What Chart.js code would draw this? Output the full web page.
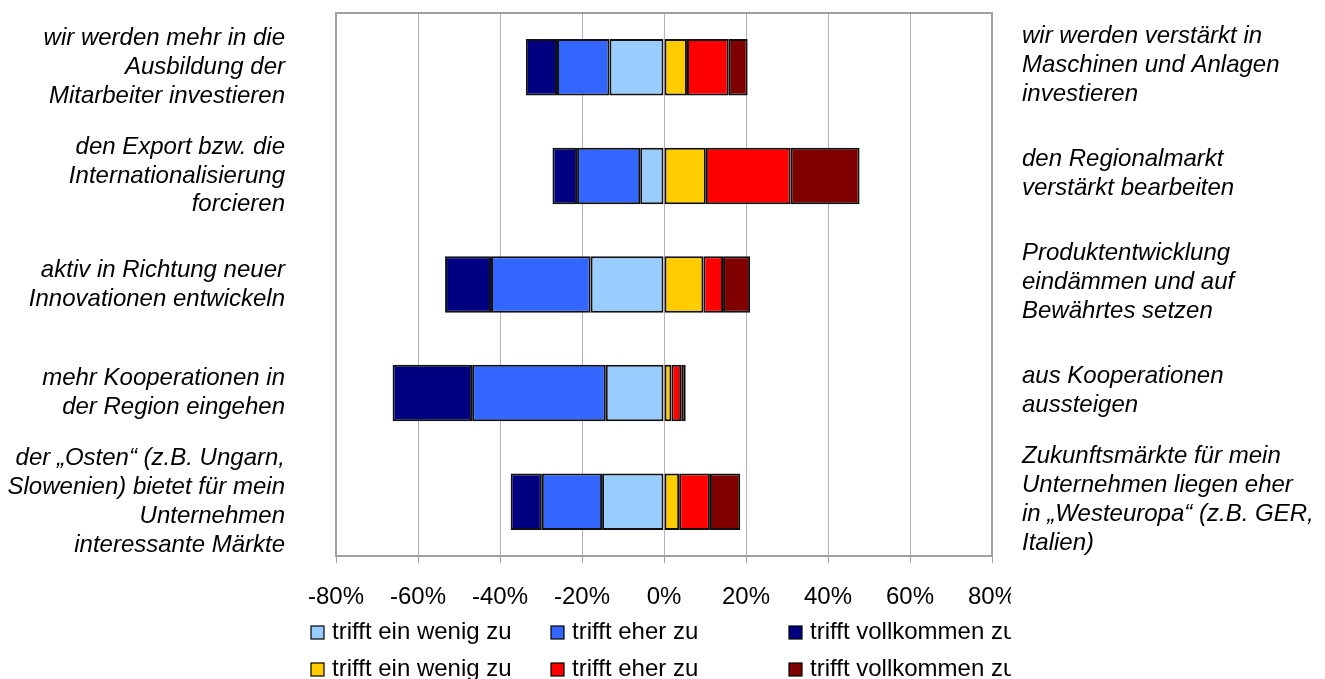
<!DOCTYPE html>
<html>
<head>
<meta charset="utf-8">
<script src="https://cdn.jsdelivr.net/npm/chart.js@4"></script>
<style>
    body { margin: 0; background: #fff; }
    #wrap { position: relative; width: 1325px; height: 679px; }
</style>
</head>
<body>
<div id="wrap"><canvas id="chart"></canvas></div>
<script>
    // left side statements (one per row, top to bottom)
    const leftLabels = [
        ['wir werden mehr in die', 'Ausbildung der', 'Mitarbeiter investieren'],
        ['den Export bzw. die', 'Internationalisierung', 'forcieren'],
        ['aktiv in Richtung neuer', 'Innovationen entwickeln'],
        ['mehr Kooperationen in', 'der Region eingehen'],
        ['der \u201EOsten\u201C (z.B. Ungarn,', 'Slowenien) bietet f\u00FCr mein', 'Unternehmen', 'interessante M\u00E4rkte']
    ];
    // right side statements
    const rightLabels = [
        ['wir werden verst\u00E4rkt in', 'Maschinen und Anlagen', 'investieren'],
        ['den Regionalmarkt', 'verst\u00E4rkt bearbeiten'],
        ['Produktentwicklung', 'eind\u00E4mmen und auf', 'Bew\u00E4hrtes setzen'],
        ['aus Kooperationen', 'aussteigen'],
        ['Zukunftsm\u00E4rkte f\u00FCr mein', 'Unternehmen liegen eher', 'in \u201EWesteuropa\u201C (z.B. GER,', 'Italien)']
    ];

    const seriesNames = ['trifft ein wenig zu', 'trifft eher zu', 'trifft vollkommen zu'];

    // left statement agreement (negative side), in %
    const leftLittle = [-13.3, -5.8, -17.9, -14.2, -15.1];
    const leftRather = [-12.8, -15.4, -24.3, -32.6, -14.7];
    const leftFully  = [-7.6, -6.0, -11.2, -19.4, -7.6];
    // right statement agreement (positive side), in %
    const rightLittle = [5.6, 10.2, 9.6, 1.8, 3.7];
    const rightRather = [10.2, 20.7, 4.8, 2.4, 7.5];
    const rightFully  = [4.6, 16.8, 6.6, 1.1, 7.4];

    const xTicks = [-80, -60, -40, -20, 0, 20, 40, 60, 80];

    const FONT = '"Liberation Sans", Arial, sans-serif';

    function ds(label, data, color) {
        return {
            label: label,
            data: data,
            backgroundColor: color,
            borderColor: '#111',
            borderWidth: 2,
            borderSkipped: false,
            barPercentage: 0.52,
            categoryPercentage: 1
        };
    }

    const datasets = [
        ds(seriesNames[0], leftLittle, '#99CCFF'),
        ds(seriesNames[1], leftRather, '#3366FF'),
        ds(seriesNames[2], leftFully, '#000080'),
        ds(seriesNames[0], rightLittle, '#FFCC00'),
        ds(seriesNames[1], rightRather, '#FF0000'),
        ds(seriesNames[2], rightFully, '#800000')
    ];

    // frame around the plot area
    const frame = {
        id: 'frame',
        beforeDatasetsDraw(chart) {
            const a = chart.chartArea, ctx = chart.ctx;
            ctx.save();
            ctx.strokeStyle = '#a0a0a0';
            ctx.lineWidth = 2;
            ctx.strokeRect(a.left, a.top, a.right - a.left, a.bottom - a.top);
            ctx.restore();
        }
    };

    // legend in two rows (left series / right series), three columns
    const legendCols = [311, 551, 789];
    const legendRows = [639, 676];
    const legendBlock = {
        id: 'legendBlock',
        afterDraw(chart) {
            const ctx = chart.ctx;
            ctx.save();
            ctx.font = '24px ' + FONT;
            ctx.textBaseline = 'alphabetic';
            ctx.textAlign = 'left';
            chart.data.datasets.forEach((d, i) => {
                const x = legendCols[i % 3], y = legendRows[Math.floor(i / 3)];
                ctx.fillStyle = d.backgroundColor;
                ctx.fillRect(x, y - 13, 13, 13);
                ctx.strokeStyle = '#000';
                ctx.lineWidth = 1.2;
                ctx.strokeRect(x, y - 13, 13, 13);
                ctx.fillStyle = '#000';
                ctx.fillText(d.label, x + 21, y);
            });
            ctx.restore();
        }
    };

    // text box on the right side, covers what runs past it
    const rightBox = {
        id: 'rightBox',
        afterDraw(chart) {
            const ctx = chart.ctx, yScale = chart.scales.y;
            ctx.save();
            ctx.fillStyle = '#fff';
            ctx.fillRect(1011, 0, chart.width - 1011, chart.height);
            ctx.font = 'italic 24px ' + FONT;
            ctx.fillStyle = '#000';
            ctx.textAlign = 'left';
            ctx.textBaseline = 'middle';
            const lh = 28.8;
            rightLabels.forEach((lines, i) => {
                const cy = yScale.getPixelForValue(i) - 2;
                lines.forEach((t, j) => {
                    ctx.fillText(t, 1022, cy + (j - (lines.length - 1) / 2) * lh);
                });
            });
            ctx.restore();
        }
    };

    new Chart(document.getElementById('chart'), {
        type: 'bar',
        data: { labels: leftLabels, datasets: datasets },
        options: {
            indexAxis: 'y',
            responsive: true,
            maintainAspectRatio: false,
            animation: false,
            layout: { padding: { top: 13, right: 333, bottom: 0, left: 0 } },
            plugins: {
                legend: { display: false },
                tooltip: { enabled: false }
            },
            scales: {
                x: {
                    stacked: true,
                    min: -80,
                    max: 80,
                    afterBuildTicks: axis => { axis.ticks = xTicks.map(v => ({ value: v })); },
                    afterFit: axis => { axis.height = 123; },
                    grid: { color: '#b4b4b4', lineWidth: 1, tickLength: 7, tickColor: '#a0a0a0' },
                    border: { color: '#a0a0a0', width: 2 },
                    ticks: {
                        padding: 20,
                        color: '#000',
                        font: { family: FONT, size: 24 },
                        maxRotation: 0,
                        callback: v => v + '%'
                    }
                },
                y: {
                    stacked: true,
                    afterFit: axis => {
                        axis.width = 336;
                        axis.paddingTop = 0;
                        axis.paddingBottom = 0;
                    },
                    grid: { display: false, drawTicks: false },
                    border: { color: '#a0a0a0', width: 2 },
                    ticks: {
                        autoSkip: false,
                        padding: 51,
                        color: '#000',
                        font: { family: FONT, size: 24, style: 'italic' }
                    }
                }
            }
        },
        plugins: [frame, legendBlock, rightBox]
    });
</script>
</body>
</html>
